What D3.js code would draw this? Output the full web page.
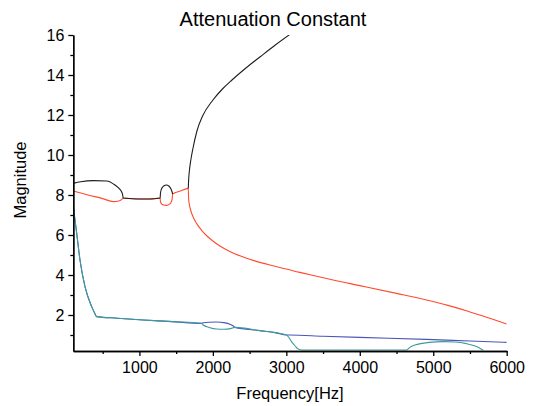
<!DOCTYPE html>
<html>
<head>
<meta charset="utf-8">
<script src="https://cdn.jsdelivr.net/npm/d3@7"></script>
<style>
html,body{margin:0;padding:0;background:#fff;}
svg{display:block;font-family:"Liberation Sans",Arial,sans-serif;}
</style>
</head>
<body>
<svg id="chart" width="534" height="406"></svg>
<script>
// ---- data ----
const xTicksMajor = [1000, 2000, 3000, 4000, 5000, 6000];
const xTicksMinor = [500, 1500, 2500, 3500, 4500, 5500];
const yTicksMajor = [2, 4, 6, 8, 10, 12, 14, 16];
const yTicksMinor = [1, 3, 5, 7, 9, 11, 13, 15];

// black: upper loop branch (100 .. 1452 Hz)
const blackLoopF = [100, 200, 372, 554, 667, 735, 765, 772, 780, 1000, 1140, 1282, 1287, 1300, 1330, 1367, 1400, 1430, 1445, 1452];
const blackLoopV = [8.58, 8.66, 8.72, 8.7, 8.5, 8.28, 8.1, 8.0, 7.85, 7.8, 7.8, 7.85, 8.1, 8.3, 8.45, 8.5, 8.45, 8.3, 8.15, 8.05];
// black: rising branch after the split (1665 Hz ..)
const blackBranchF = [1665, 1670, 1680, 1700, 1730, 1783, 1860, 2001, 2130, 2260, 2450, 2640, 2850, 3075];
const blackBranchV = [8.33, 8.75, 9.2, 9.75, 10.35, 11.2, 11.95, 12.75, 13.3, 13.75, 14.35, 14.9, 15.5, 16.1];

// red
const redF = [100, 300, 500, 644, 720, 760, 780, 1000, 1140, 1282, 1287, 1300, 1330, 1367, 1400, 1430, 1445, 1452, 1560, 1665, 1670, 1680, 1697, 1730, 1780, 1850, 1920, 1983, 2096, 2230, 2368, 2560, 2776, 3000, 3185, 3400, 3637, 4000, 4500, 4908, 5200, 5500, 5800, 6000];
const redV = [8.2, 8.0, 7.82, 7.67, 7.7, 7.78, 7.85, 7.8, 7.8, 7.85, 7.65, 7.56, 7.5, 7.48, 7.52, 7.63, 7.78, 8.05, 8.2, 8.33, 7.8, 7.52, 7.25, 6.91, 6.57, 6.22, 5.95, 5.75, 5.45, 5.18, 4.96, 4.72, 4.5, 4.3, 4.13, 3.95, 3.75, 3.47, 3.08, 2.75, 2.48, 2.15, 1.8, 1.55];

// blue
const blueF = [100, 146, 191, 259, 350, 390, 418, 700, 1052, 1450, 1847, 1870, 1950, 2050, 2150, 2240, 2280, 2300, 2640, 2850, 3003, 3050, 3500, 4000, 4908, 5500, 6000];
const blueV = [7.4, 6.1, 4.75, 3.42, 2.42, 2.1, 1.92, 1.84, 1.75, 1.67, 1.58, 1.61, 1.64, 1.65, 1.62, 1.53, 1.45, 1.38, 1.22, 1.12, 1.0, 1.0, 0.94, 0.88, 0.78, 0.7, 0.63];

// teal
const tealF = [100, 146, 191, 259, 350, 390, 418, 700, 1052, 1450, 1847, 1870, 1950, 2050, 2150, 2240, 2300, 2640, 2850, 3003, 3040, 3071, 3120, 3161, 3220, 4000, 4636, 4680, 4750, 4850, 4950, 5134, 5300, 5450, 5570, 5640, 5678];
const tealV = [7.4, 6.1, 4.75, 3.42, 2.42, 2.1, 1.92, 1.84, 1.75, 1.67, 1.58, 1.5, 1.38, 1.3, 1.29, 1.32, 1.38, 1.22, 1.12, 1.0, 0.85, 0.67, 0.45, 0.3, 0.25, 0.25, 0.25, 0.38, 0.5, 0.58, 0.63, 0.67, 0.65, 0.57, 0.45, 0.33, 0.25];

const series = [
  {f: blueF, v: blueV, color: "#4a56b8"},
  {f: tealF, v: tealV, color: "#3e9a9a"},
  {f: redF, v: redV, color: "#ff4a2e"},
  {f: blackLoopF, v: blackLoopV, color: "#1e1e1e"},
  {f: blackBranchF, v: blackBranchV, color: "#1e1e1e"}
];

// ---- layout ----
const svg = d3.select("#chart");
const mLeft = 73.3, mRight = 506.7, mTop = 35, mBottom = 351;
const x = d3.scaleLinear().domain([100, 6000]).range([mLeft, mRight]);
const y = d3.scaleLinear().domain([0.2, 16]).range([mBottom, mTop]);

svg.append("defs").append("clipPath").attr("id", "clip")
  .append("rect").attr("x", mLeft).attr("y", mTop).attr("width", mRight - mLeft).attr("height", mBottom - mTop);

const line = d3.line().x(d => x(d[0])).y(d => y(d[1])).curve(d3.curveMonotoneX);
const plot = svg.append("g").attr("clip-path", "url(#clip)");
series.forEach(s => {
  plot.append("path")
    .datum(s.f.map((f, i) => [f, s.v[i]]))
    .attr("d", line)
    .attr("fill", "none")
    .attr("stroke", s.color)
    .attr("stroke-width", 1.1);
});

// ---- axes ----
function styleAxis(g) {
  g.selectAll("path,line").attr("stroke", "#000").attr("stroke-width", 1.3);
  g.selectAll("text").attr("fill", "#000").style("font-size", "16px").style("font-family", '"Liberation Sans", Arial, sans-serif');
}
svg.append("g").attr("transform", `translate(0,${mBottom})`)
  .call(d3.axisBottom(x).tickValues(xTicksMinor).tickSize(3).tickSizeOuter(0).tickFormat(""))
  .call(styleAxis);
svg.append("g").attr("transform", `translate(0,${mBottom})`)
  .call(d3.axisBottom(x).tickValues(xTicksMajor).tickSize(5).tickSizeOuter(0).tickPadding(6).tickFormat(d3.format("d")))
  .call(styleAxis);
svg.append("g").attr("transform", `translate(${mLeft},0)`)
  .call(d3.axisLeft(y).tickValues(yTicksMinor).tickSize(3).tickSizeOuter(0).tickFormat(""))
  .call(styleAxis);
svg.append("g").attr("transform", `translate(${mLeft},0)`)
  .call(d3.axisLeft(y).tickValues(yTicksMajor).tickSize(5).tickSizeOuter(0).tickPadding(4).tickFormat(d3.format("d")))
  .call(styleAxis);

// ---- titles ----
svg.append("text").attr("x", 273).attr("y", 26).attr("text-anchor", "middle")
  .style("font-size", "20px").attr("fill", "#000").text("Attenuation Constant");
svg.append("text").attr("x", 290).attr("y", 399).attr("text-anchor", "middle")
  .style("font-size", "16.5px").attr("fill", "#000").text("Frequency[Hz]");
svg.append("text").attr("transform", "translate(26,180) rotate(-90)").attr("text-anchor", "middle")
  .style("font-size", "16.5px").attr("fill", "#000").text("Magnitude");
</script>
</body>
</html>
